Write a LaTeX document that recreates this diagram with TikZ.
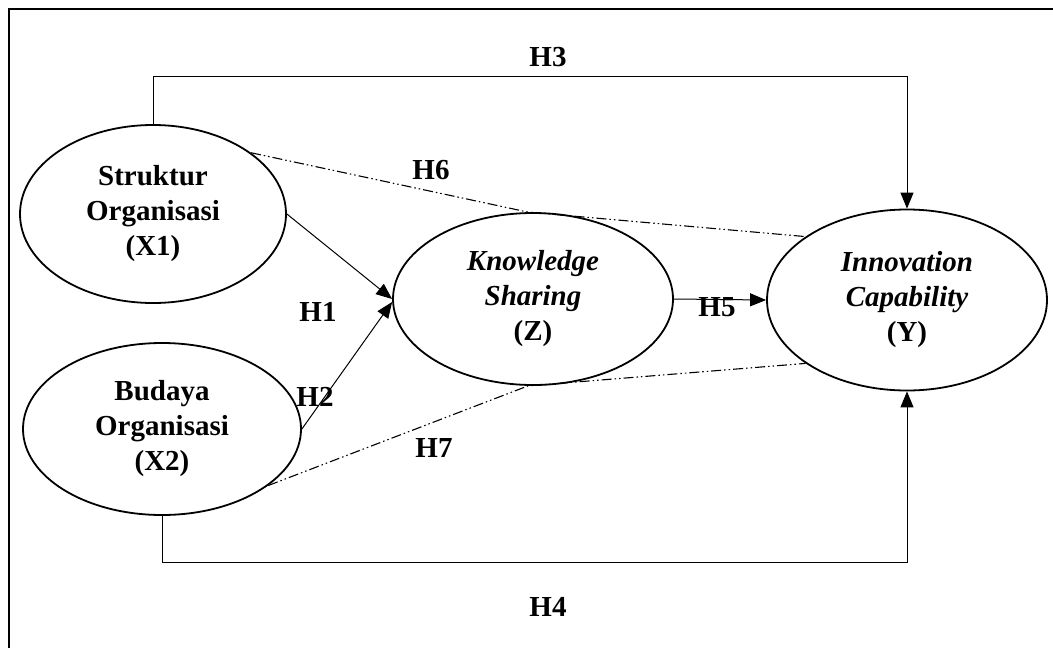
\documentclass[tikz,border=0pt]{standalone}
\usepackage{fontspec}
\setmainfont{Liberation Serif}
\usetikzlibrary{shapes.geometric,arrows.meta}
\begin{document}
\begin{tikzpicture}[x=1pt,y=-1pt,
  construct/.style={draw,ellipse,line width=1.8pt,fill=white,inner sep=0pt,
    align=center,font=\fontsize{29}{35}\selectfont\bfseries},
  hlabel/.style={font=\fontsize{29}{34}\selectfont\bfseries,inner sep=0pt},
  conn/.style={line width=1pt},
  arr/.style={conn,-{Triangle[length=16pt,width=13pt]}},
  dashdotdot/.style={line width=1.1pt,dash pattern=on 10pt off 3pt on 1.5pt off 3pt on 1.5pt off 3pt}]
  \useasboundingbox (0,0) rectangle (1053,648);

  % outer frame (left and top edges)
  \coordinate (fbl) at (9,648);
  \coordinate (ftl) at (9,9);
  \coordinate (ftr) at (1053,9);
  \draw[line width=1.5pt] (fbl) -- (ftl) -- (ftr);

  % constructs
  \node[construct,minimum width=266pt,minimum height=178pt] (x1) at (153,214)
    {Struktur\\Organisasi\\(X1)};
  \node[construct,minimum width=278pt,minimum height=172pt] (x2) at (162,429)
    {Budaya\\Organisasi\\(X2)};
  \node[construct,minimum width=280pt,minimum height=172pt] (z) at (533,299)
    {\itshape Knowledge\\\itshape Sharing\\(Z)};
  \node[construct,minimum width=280pt,minimum height=181pt] (y) at (907,300)
    {\itshape Innovation\\\itshape Capability\\(Y)};

  % direct paths
  \draw[arr] (x1.east) -- (z.west);
  \draw[arr] (x2.east) -- ([yshift=-3pt]z.west);
  \draw[arr] (z.east) -- (y.west);
  \draw[arr] (x1.north) -- ++(0,-48) -| (y.north);
  \draw[arr] (x2.south) -- ++(0,47) -| (y.south);

  % mediated paths
  \draw[dashdotdot] (x1.32) -- ([xshift=-5pt]z.north) -- (y.148);
  \draw[dashdotdot] (x2.-28) -- ([xshift=-5pt]z.south) -- (y.212);

  % hypothesis labels
  \node[hlabel] (h1) at (318,312) {H1};
  \node[hlabel] (h2) at (315,397) {H2};
  \node[hlabel] (h3) at (548,57) {H3};
  \node[hlabel] (h4) at (548,607) {H4};
  \node[hlabel] (h5) at (717,307) {H5};
  \node[hlabel] (h6) at (431,170) {H6};
  \node[hlabel] (h7) at (434,448) {H7};
\end{tikzpicture}
\end{document}
